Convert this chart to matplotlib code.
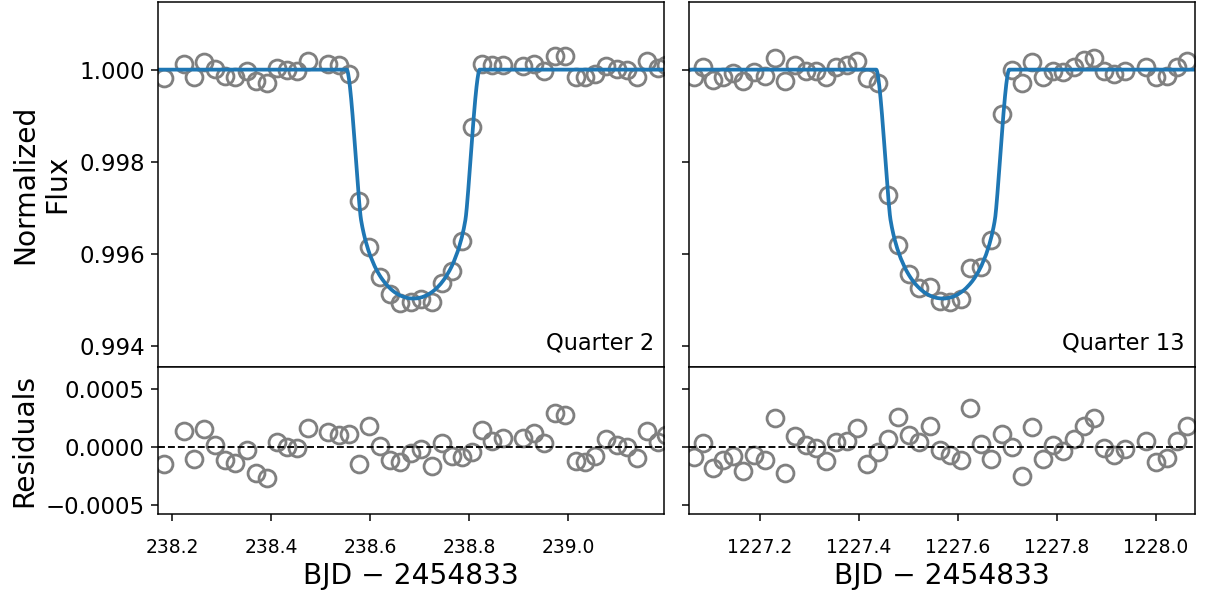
import numpy as np
import matplotlib
matplotlib.use("Agg")
import matplotlib.pyplot as plt
from matplotlib.ticker import FormatStrFormatter, FuncFormatter, MultipleLocator

# ---- Quarter 2 photometry ----
t_q2 = [238.1838, 238.2248, 238.2444, 238.2653, 238.2869, 238.3071, 238.3283, 238.3509,
        238.3697, 238.3913, 238.4115, 238.4317, 238.4519, 238.4741, 238.5158, 238.5370,
        238.5586, 238.5784, 238.5986, 238.6202, 238.6404, 238.6606, 238.6822, 238.7030,
        238.7246, 238.7448, 238.7651, 238.7865, 238.8071, 238.8263, 238.8465, 238.8687,
        238.9097, 238.9323, 238.9521, 238.9737, 238.9939, 239.0156, 239.0354, 239.0556,
        239.0768, 239.0984, 239.1186, 239.1388, 239.1602, 239.1818, 239.1980]
flux_q2 = [0.99982, 1.00013, 0.99985, 1.00016, 1.00002, 0.99987, 0.99985, 0.99998,
           0.99975, 0.99971, 1.00004, 1.00000, 0.99998, 1.00018, 1.00013, 1.00011,
           0.99991, 0.99714, 0.99615, 0.99549, 0.99512, 0.99493, 0.99496, 0.99502,
           0.99495, 0.99536, 0.99562, 0.99628, 0.99876, 1.00013, 1.00009, 1.00009,
           1.00007, 1.00013, 0.99998, 1.00030, 1.00029, 0.99985, 0.99984, 0.99991,
           1.00007, 1.00002, 1.00000, 0.99984, 1.00018, 1.00004, 1.00011]
resid_q2 = [-0.000145, 0.000139, -0.000103, 0.000151, 0.000017, -0.000111, -0.000139, -0.000026,
            -0.000225, -0.000268, 0.000045, 0.000003, -0.000011, 0.000160, 0.000126, 0.000103,
            0.000109, -0.000145, 0.000179, 0.000009, -0.000111, -0.000131, -0.000054, -0.000020,
            -0.000160, 0.000032, -0.000077, -0.000083, -0.000045, 0.000145, 0.000054, 0.000079,
            0.000074, 0.000117, 0.000032, 0.000293, 0.000274, -0.000120, -0.000126, -0.000077,
            0.000066, 0.000017, 0.000003, -0.000097, 0.000139, 0.000045, 0.000103]

# ---- Quarter 13 photometry ----
t_q13 = [1227.0667, 1227.0855, 1227.1057, 1227.1259, 1227.1461, 1227.1667, 1227.1879, 1227.2097,
         1227.2303, 1227.2515, 1227.2717, 1227.2929, 1227.3145, 1227.3347, 1227.3545, 1227.3758,
         1227.3966, 1227.4162, 1227.4390, 1227.4592, 1227.4794, 1227.5010, 1227.5218, 1227.5428,
         1227.5636, 1227.5838, 1227.6055, 1227.6248, 1227.6459, 1227.6667, 1227.6883, 1227.7085,
         1227.7287, 1227.7505, 1227.7711, 1227.7919, 1227.8127, 1227.8343, 1227.8545, 1227.8747,
         1227.8949, 1227.9162, 1227.9374, 1227.9794, 1228.0000, 1228.0216, 1228.0418, 1228.0626]
flux_q13 = [0.99985, 1.00006, 0.99978, 0.99985, 0.99993, 0.99976, 0.99994, 0.99987,
            1.00025, 0.99975, 1.00011, 0.99998, 0.99998, 0.99985, 1.00006, 1.00009,
            1.00018, 0.99982, 0.99972, 0.99727, 0.99618, 0.99557, 0.99525, 0.99528,
            0.99498, 0.99496, 0.99502, 0.99569, 0.99572, 0.99629, 0.99904, 1.00000,
            0.99972, 1.00016, 0.99985, 0.99998, 0.99994, 1.00006, 1.00020, 1.00025,
            0.99996, 0.99991, 0.99996, 1.00006, 0.99984, 0.99987, 1.00006, 1.00018]
resid_q13 = [-0.000083, 0.000032, -0.000182, -0.000111, -0.000074, -0.000203, -0.000068, -0.000111,
             0.000245, -0.000225, 0.000094, 0.000017, -0.000011, -0.000120, 0.000040, 0.000054,
             0.000160, -0.000145, -0.000040, 0.000066, 0.000254, 0.000103, 0.000045, 0.000182,
             -0.000026, -0.000068, -0.000111, 0.000331, 0.000026, -0.000105, 0.000111, 0.000003,
             -0.000248, 0.000168, -0.000105, 0.000017, -0.000034, 0.000066, 0.000179, 0.000250,
             -0.000011, -0.000068, -0.000020, 0.000051, -0.000126, -0.000091, 0.000051, 0.000182]

# ---- transit model parameters ----
t0_q2 = 238.6875
t0_q13 = 1227.5694
rp_rs = 0.0675        # planet-to-star radius ratio
impact = 0.65         # impact parameter
speed = 6.32          # sky-projected speed, stellar radii per day
u1, u2 = 0.50, 0.25   # quadratic limb darkening

xlim_q2 = (238.172, 239.194)
xlim_q13 = (1227.057, 1228.079)
ylim_flux = (0.99354, 1.00148)
ylim_res = (-0.000573, 0.000684)


def transit_flux(t, t0, p, b, v, ua, ub, n=1500):
    """Limb-darkened flux of a star occulted by an opaque disk (annulus integration)."""
    r = (np.arange(n) + 0.5) / n
    mu = np.sqrt(1.0 - r ** 2)
    inten = 1.0 - ua * (1.0 - mu) - ub * (1.0 - mu) ** 2
    weight = inten * 2.0 * np.pi * r / n
    total = weight.sum()
    z = np.sqrt(b ** 2 + (v * (np.asarray(t) - t0)) ** 2)[:, None]
    cosarg = (r[None, :] ** 2 + z ** 2 - p ** 2) / (2.0 * r[None, :] * z)
    frac = np.arccos(np.clip(cosarg, -1.0, 1.0)) / np.pi
    blocked = (frac * weight[None, :]).sum(axis=1)
    return 1.0 - blocked / total


fig = plt.figure(figsize=(1212 / 135, 594 / 135), dpi=135)

W, H = 1212.0, 594.0
col_x = [(158, 664), (689, 1195)]
top_y = (1.5, 367)
bot_y = (367, 514)


def rect(x0, x1, y0, y1):
    return [x0 / W, 1 - y1 / H, (x1 - x0) / W, (y1 - y0) / H]


gray = "#808080"
blue = "#1f77b4"
minus_fmt = FuncFormatter(lambda v, pos: ("%.4f" % v).replace("-", "\u2212"))

panels = [
    (t_q2, flux_q2, resid_q2, t0_q2, xlim_q2, "Quarter 2"),
    (t_q13, flux_q13, resid_q13, t0_q13, xlim_q13, "Quarter 13"),
]

for i, (t, f, res, t0, xl, label) in enumerate(panels):
    x0, x1 = col_x[i]
    ax_f = fig.add_axes(rect(x0, x1, *top_y))
    ax_r = fig.add_axes(rect(x0, x1, *bot_y), sharex=ax_f)

    tm = np.linspace(xl[0], xl[1], 2500)
    model = transit_flux(tm, t0, rp_rs, impact, speed, u1, u2)

    ax_f.plot(t, f, "o", mfc="none", mec=gray, ms=9, mew=1.5)
    ax_f.plot(tm, model, color=blue, lw=2.0)
    ax_f.set_ylim(*ylim_flux)
    ax_f.set_xlim(*xl)
    ax_f.yaxis.set_major_locator(MultipleLocator(0.002))
    ax_f.yaxis.set_major_formatter(FormatStrFormatter("%.3f"))
    ax_f.text(0.98, 0.035, label, transform=ax_f.transAxes, ha="right",
              va="bottom", fontsize=12)
    ax_f.tick_params(labelbottom=False)

    ax_r.plot(t, res, "o", mfc="none", mec=gray, ms=9, mew=1.5)
    ax_r.axhline(0.0, color="k", ls="--", lw=1.0)
    ax_r.set_ylim(*ylim_res)
    ax_r.yaxis.set_major_locator(MultipleLocator(0.0005))
    ax_r.yaxis.set_major_formatter(minus_fmt)
    ax_r.xaxis.set_major_locator(MultipleLocator(0.2))
    ax_r.xaxis.set_major_formatter(FormatStrFormatter("%.1f"))
    ax_r.set_xlabel("BJD \u2212 2454833", fontsize=15, labelpad=2.5)

    for ax in (ax_f, ax_r):
        ax.tick_params(axis="x", labelsize=10, pad=9.5)
        ax.tick_params(axis="y", labelsize=12.2)

    if i == 0:
        ax_f.set_ylabel("Normalized\nFlux", fontsize=15)
        ax_r.set_ylabel("Residuals", fontsize=15)
    else:
        ax_f.tick_params(labelleft=False)
        ax_r.tick_params(labelleft=False)

fig.savefig("out.png", dpi=135)
